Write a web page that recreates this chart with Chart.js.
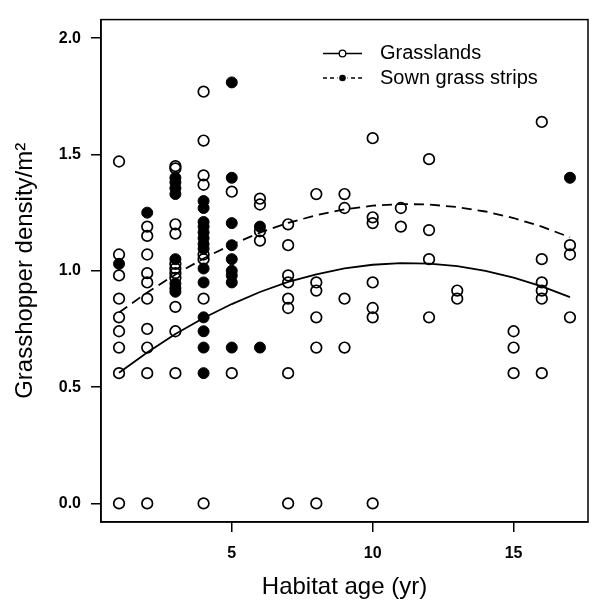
<!DOCTYPE html>
<html>
<head>
<meta charset="utf-8">
<script src="https://cdn.jsdelivr.net/npm/chart.js@4"></script>
<style>
  html, body { margin: 0; padding: 0; background: #fff; }
  canvas { display: block; }
</style>
</head>
<body>
<canvas id="c" width="595" height="607"></canvas>
<script>
// ---- data ----
const grassAges = [
  1,1,1,1,1,1,1,1,1,
  2,2,2,2,2,2,2,2,2,2,
  3,3,3,3,3,3,3,3,3,3,3,
  4,4,4,4,4,4,4,4,
  5,5,
  6,6,6,6,
  7,7,7,7,7,7,7,7,
  8,8,8,8,8,8,
  9,9,9,9,
  10,10,10,10,10,10,10,
  11,11,
  12,12,12,12,
  13,13,
  15,15,15,
  16,16,16,16,16,16,
  17,17,17
];
const grassDensity = [
  1.47,1.07,0.98,0.88,0.80,0.74,0.67,0.56,0.00,
  1.19,1.15,1.07,0.99,0.95,0.88,0.75,0.67,0.56,0.00,
  1.45,1.44,1.20,1.16,1.03,1.01,0.99,0.97,0.845,0.74,0.56,
  1.77,1.56,1.41,1.37,1.07,1.05,0.88,0.00,
  1.34,0.56,
  1.31,1.285,1.17,1.13,
  1.20,1.11,0.98,0.95,0.88,0.84,0.56,0.00,
  1.33,0.95,0.915,0.80,0.67,0.00,
  1.33,1.27,0.88,0.67,
  1.57,1.23,1.205,0.95,0.84,0.80,0.00,
  1.27,1.19,
  1.48,1.175,1.05,0.80,
  0.915,0.88,
  0.74,0.67,0.56,
  1.64,1.05,0.95,0.915,0.88,0.56,
  1.11,1.07,0.80
];
const sownAges = [
  1,
  2,
  3,3,3,3,3,3,3,3,
  4,4,4,4,4,4,4,4,4,4,4,4,4,4,
  5,5,5,5,5,5,5,5,5,
  6,6,
  17
];
const sownDensity = [
  1.03,
  1.25,
  1.40,1.38,1.355,1.33,1.05,0.945,0.925,0.91,
  1.30,1.27,1.21,1.19,1.165,1.14,1.115,1.095,1.01,0.95,0.80,0.74,0.67,0.56,
  1.81,1.40,1.205,1.11,1.05,1.00,0.98,0.95,0.67,
  1.19,0.67,
  1.40
];
const fitAges   = [1,2,3,4,5,6,7,8,9,10,11,12,13,14,15,16,17];
const grassFit  = [0.562,0.649,0.728,0.797,0.857,0.909,0.952,0.985,1.010,1.026,1.033,1.031,1.020,1.000,0.971,0.933,0.887];
const sownFit   = [0.821,0.907,0.984,1.053,1.113,1.164,1.206,1.239,1.264,1.280,1.287,1.285,1.274,1.255,1.227,1.190,1.144];
const xTickValues = [5, 10, 15];
const yTickValues = [0, 0.5, 1.0, 1.5, 2.0];
const legendLabels = ['Grasslands', 'Sown grass strips'];
const xTitle = 'Habitat age (yr)';
const yTitle = 'Grasshopper density/m\u00B2';

// ---- build ----
const toPts = (xs, ys) => xs.map((x, i) => ({ x: x, y: ys[i] }));
const FONT = '"Liberation Sans", Arial, sans-serif';

const framePlugin = {
  id: 'frame',
  afterDraw(chart) {
    const { ctx, chartArea: a } = chart;
    ctx.save();
    ctx.strokeStyle = '#000';
    ctx.lineWidth = 1.5;
    ctx.strokeRect(a.left, a.top, a.right - a.left, a.bottom - a.top);

    // legend
    const x0 = 323, x1 = 362, xc = 342.5, tx = 380;
    const rows = [53.5, 78];
    ctx.lineWidth = 1.3;
    ctx.setLineDash([]);
    ctx.beginPath(); ctx.moveTo(x0, rows[0]); ctx.lineTo(x1, rows[0]); ctx.stroke();
    ctx.beginPath(); ctx.arc(xc, rows[0], 3.3, 0, Math.PI * 2);
    ctx.fillStyle = '#fff'; ctx.fill(); ctx.stroke();
    ctx.setLineDash([4, 3]);
    ctx.beginPath(); ctx.moveTo(x0, rows[1]); ctx.lineTo(x1, rows[1]); ctx.stroke();
    ctx.setLineDash([]);
    ctx.fillStyle = '#fff';
    ctx.fillRect(xc - 5, rows[1] - 3, 10, 6);
    ctx.beginPath(); ctx.arc(xc, rows[1], 3.3, 0, Math.PI * 2);
    ctx.fillStyle = '#000'; ctx.fill();
    ctx.fillStyle = '#000';
    ctx.font = '20px ' + FONT;
    ctx.textAlign = 'left';
    ctx.textBaseline = 'middle';
    ctx.fillText(legendLabels[0], tx, rows[0]);
    ctx.fillText(legendLabels[1], tx, rows[1]);
    ctx.restore();
  }
};

new Chart(document.getElementById('c'), {
  type: 'scatter',
  data: {
    datasets: [
      {
        label: legendLabels[1] + ' fit',
        type: 'line',
        data: toPts(fitAges, sownFit),
        borderColor: '#000',
        borderWidth: 1.8,
        borderDash: [10, 6],
        pointRadius: 0,
        fill: false,
        showLine: true,
        tension: 0
      },
      {
        label: legendLabels[0] + ' fit',
        type: 'line',
        data: toPts(fitAges, grassFit),
        borderColor: '#000',
        borderWidth: 1.8,
        pointRadius: 0,
        fill: false,
        showLine: true,
        tension: 0
      },
      {
        label: legendLabels[1],
        data: toPts(sownAges, sownDensity),
        pointStyle: 'circle',
        pointRadius: 5.5,
        pointBorderWidth: 1,
        pointBackgroundColor: '#000',
        pointBorderColor: '#000',
        showLine: false
      },
      {
        label: legendLabels[0],
        data: toPts(grassAges, grassDensity),
        pointStyle: 'circle',
        pointRadius: 5.3,
        pointBorderWidth: 1.7,
        pointBackgroundColor: 'rgba(0,0,0,0)',
        pointBorderColor: '#000',
        showLine: false
      }
    ]
  },
  options: {
    responsive: false,
    devicePixelRatio: 1,
    animation: false,
    layout: { padding: { top: 9, right: 2, left: 0, bottom: 0 } },
    plugins: { legend: { display: false }, tooltip: { enabled: false } },
    scales: {
      x: {
        type: 'linear',
        min: 0.36,
        max: 17.64,
        afterBuildTicks: (axis) => { axis.ticks = xTickValues.map(v => ({ value: v })); },
        afterFit: (axis) => { axis.height = 85; },
        ticks: {
          color: '#000',
          font: { family: FONT, size: 16, weight: 'bold' },
          padding: 12,
          maxRotation: 0,
          autoSkip: false,
          callback: (v) => String(v)
        },
        grid: {
          display: true,
          drawOnChartArea: false,
          drawTicks: true,
          tickLength: 10,
          color: '#000',
          lineWidth: 1.5
        },
        border: { display: true, color: '#000', width: 1.5 },
        title: {
          display: true,
          text: xTitle,
          color: '#000',
          font: { family: FONT, size: 24 },
          padding: { top: 0, bottom: 5 }
        }
      },
      y: {
        type: 'linear',
        min: -0.08,
        max: 2.08,
        afterBuildTicks: (axis) => { axis.ticks = yTickValues.map(v => ({ value: v })); },
        afterFit: (axis) => { axis.width = 101; },
        ticks: {
          color: '#000',
          font: { family: FONT, size: 16, weight: 'bold' },
          padding: 10,
          autoSkip: false,
          callback: (v) => Number(v).toFixed(1)
        },
        grid: {
          display: true,
          drawOnChartArea: false,
          drawTicks: true,
          tickLength: 10,
          color: '#000',
          lineWidth: 1.5
        },
        border: { display: true, color: '#000', width: 1.5 },
        title: {
          display: true,
          text: yTitle,
          color: '#000',
          font: { family: FONT, size: 24 },
          padding: { top: 11, bottom: 0 }
        }
      }
    }
  },
  plugins: [framePlugin]
});
</script>
</body>
</html>
